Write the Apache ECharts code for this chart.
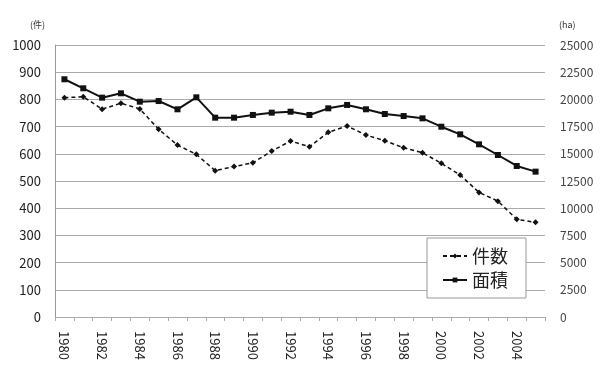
<!DOCTYPE html>
<html>
<head>
<meta charset="utf-8">
<script src="https://cdn.jsdelivr.net/npm/echarts@6/dist/echarts.min.js"></script>
<style>
  html, body { margin: 0; padding: 0; background: #fff; }
  #chart { width: 605px; height: 378px; }
</style>
</head>
<body>
<div id="chart"></div>
<script>
'use strict';

// --- data
var years = ['1980', '1981', '1982', '1983', '1984', '1985', '1986', '1987', '1988', '1989',
  '1990', '1991', '1992', '1993', '1994', '1995', '1996', '1997', '1998', '1999',
  '2000', '2001', '2002', '2003', '2004', '2005'];
var kensu = [806, 810, 764, 786, 765, 690, 632, 598, 538, 553,
  567, 610, 647, 626, 679, 702, 669, 648, 622, 604,
  565, 522, 458, 426, 359, 348];
var menseki = [21850, 21020, 20160, 20560, 19790, 19850, 19090, 20190, 18320, 18320,
  18570, 18780, 18870, 18570, 19180, 19490, 19090, 18660, 18470, 18260,
  17490, 16790, 15870, 14890, 13880, 13360];
var seriesNames = ['件数', '面積'];
var leftName = '(件)';
var rightName = '(ha)';

var font = '"Noto Sans CJK JP", "DejaVu Sans", sans-serif';
var myChart = echarts.init(document.getElementById('chart'));

function plain(v) {
  return String(v);
}

var option = {
  backgroundColor: '#ffffff',
  animation: false,
  grid: {
    left: 55,
    right: 60,
    top: 45,
    bottom: 61
  },
  legend: {
    orient: 'vertical',
    left: 427,
    top: 238,
    padding: [9, 18, 9, 15],
    itemGap: 6,
    itemWidth: 24,
    itemHeight: 6,
    backgroundColor: '#ffffff',
    borderColor: '#999999',
    borderWidth: 1,
    textStyle: { fontFamily: font, fontSize: 18, color: '#222' },
    data: seriesNames
  },
  xAxis: {
    type: 'category',
    data: years,
    boundaryGap: true,
    axisLine: { show: false },
    axisTick: { show: true, interval: 0, length: 4, lineStyle: { color: '#aaa' } },
    axisLabel: {
      interval: 1,
      rotate: -90,
      margin: 14,
      fontFamily: font,
      fontSize: 13,
      color: '#222'
    }
  },
  yAxis: [{
    type: 'value',
    min: 0,
    max: 1000,
    interval: 100,
    name: leftName,
    nameLocation: 'end',
    nameGap: 16,
    nameTextStyle: { fontFamily: font, fontSize: 9, color: '#333', align: 'right', padding: [0, 10, 0, 0] },
    axisLine: { show: true, lineStyle: { color: '#999' } },
    axisTick: { show: false },
    axisLabel: { margin: 14, fontFamily: font, fontSize: 13, color: '#222', formatter: plain },
    splitLine: { show: true, lineStyle: { color: '#aaaaaa', width: 1 } }
  }, {
    type: 'value',
    min: 0,
    max: 25000,
    interval: 2500,
    name: rightName,
    nameLocation: 'end',
    nameGap: 16,
    nameTextStyle: { fontFamily: font, fontSize: 9, color: '#333', align: 'left', padding: [0, 0, 0, 14] },
    axisLine: { show: false },
    axisTick: { show: false },
    axisLabel: { margin: 15, fontFamily: font, fontSize: 12, color: '#444', formatter: plain },
    splitLine: { show: false }
  }],
  series: [{
    name: seriesNames[0],
    type: 'line',
    yAxisIndex: 0,
    data: kensu,
    symbol: 'diamond',
    symbolSize: 6,
    itemStyle: { color: '#111' },
    lineStyle: { color: '#111', width: 1.5, type: [4, 3] }
  }, {
    name: seriesNames[1],
    type: 'line',
    yAxisIndex: 1,
    data: menseki,
    symbol: 'rect',
    symbolSize: 6,
    itemStyle: { color: '#111' },
    lineStyle: { color: '#111', width: 2 }
  }]
};

myChart.setOption(option);
</script>
</body>
</html>
